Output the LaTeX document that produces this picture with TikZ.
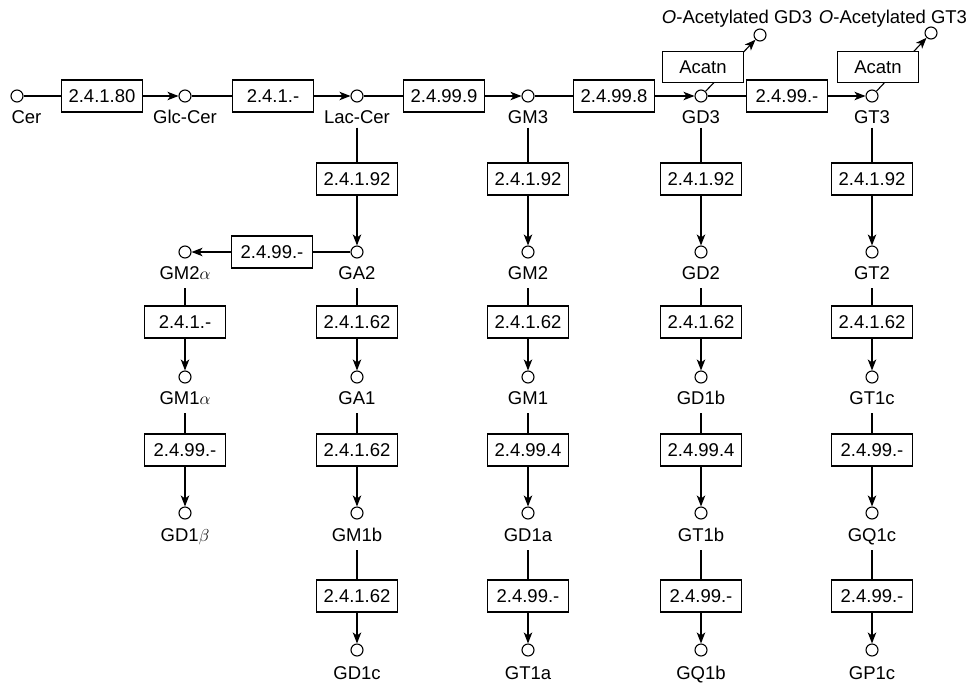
\documentclass[tikz,border=0pt]{standalone}
\usepackage{fontspec}
\setmainfont{Liberation Sans}
\usetikzlibrary{arrows.meta}
\newcommand\fs{\fontsize{18.5}{22}\selectfont}
\begin{document}
\begin{tikzpicture}[x=1pt,y=-1pt,line width=1.1pt,
  met/.style={circle,draw,fill=white,minimum size=12pt,inner sep=0pt},
  enz/.style={draw,fill=white,minimum width=81pt,minimum height=32pt,inner sep=0pt,font=\fs},
  lbl/.style={font=\fs,inner sep=0pt,text depth=8pt,anchor=base},
  arr/.style={-{Stealth[length=11pt,width=8.5pt,inset=3pt]}}]
\useasboundingbox (0,0) rectangle (971,683);
% main row
\node[met] (cCer) at (17,96) {};
\node[lbl,anchor=base west] (lCer) at (11,123.5) {Cer};
\foreach \n/\x/\t in {Glc/185/Glc-Cer, Lac/357/Lac-Cer, GM3/528/GM3, GD3/701/GD3, GT3/872/GT3}{
  \node[met] (c\n) at (\x,96) {};
  \node[lbl] (l\n) at (\x,123.5) {\t};
}
\foreach \n/\x/\t in {a/102/2.4.1.80, b/273/2.4.1.-, c/444/2.4.99.9, d/614/2.4.99.8, e/787/2.4.99.-}
  \node[enz] (h\n) at (\x,96) {\t};
\draw (cCer) -- (ha); \draw[arr] (ha) -- (cGlc);
\draw (cGlc) -- (hb); \draw[arr] (hb) -- (cLac);
\draw (cLac) -- (hc); \draw[arr] (hc) -- (cGM3);
\draw (cGM3) -- (hd); \draw[arr] (hd) -- (cGD3);
\draw (cGD3) -- (he); \draw[arr] (he) -- (cGT3);
% vertical columns
\foreach \col/\x/\ea/\eb/\ec/\ed/\pa/\pb/\pc/\pd in {
  Lac/357/2.4.1.92/2.4.1.62/2.4.1.62/2.4.1.62/GA2/GA1/GM1b/GD1c,
  GM3/528/2.4.1.92/2.4.1.62/2.4.99.4/2.4.99.-/GM2/GM1/GD1a/GT1a,
  GD3/701/2.4.1.92/2.4.1.62/2.4.99.4/2.4.99.-/GD2/GD1b/GT1b/GQ1b,
  GT3/872/2.4.1.92/2.4.1.62/2.4.99.-/2.4.99.-/GT2/GT1c/GQ1c/GP1c}{
  \node[enz] (\col e1) at (\x,179) {\ea};
  \node[met] (\col c1) at (\x,252) {};
  \node[lbl] (\col l1) at (\x,279.5) {\pa};
  \node[enz] (\col e2) at (\x,322) {\eb};
  \node[met] (\col c2) at (\x,377) {};
  \node[lbl] (\col l2) at (\x,404.5) {\pb};
  \node[enz] (\col e3) at (\x,450) {\ec};
  \node[met] (\col c3) at (\x,513) {};
  \node[lbl] (\col l3) at (\x,541.5) {\pc};
  \node[enz] (\col e4) at (\x,596) {\ed};
  \node[met] (\col c4) at (\x,650) {};
  \node[lbl] (\col l4) at (\x,679.5) {\pd};
  \draw[shorten <=-4.5pt] (l\col.south) -- (\col e1.north);
  \draw[arr] (\col e1) -- (\col c1);
  \draw (\col l1.south) -- (\col e2.north);
  \draw[arr] (\col e2) -- (\col c2);
  \draw (\col l2.south) -- (\col e3.north);
  \draw[arr] (\col e3) -- (\col c3);
  \draw (\col l3.south) -- (\col e4.north);
  \draw[arr] (\col e4) -- (\col c4);
}
% GM2alpha branch
\node[enz] (hf) at (272,252) {2.4.99.-};
\node[met] (cGMa) at (185,252) {};
\node[lbl] (lGMa) at (185,279.5) {GM2$\alpha$};
\node[enz] (fe2) at (185,322) {2.4.1.-};
\node[met] (fc2) at (185,377) {};
\node[lbl] (fl2) at (185,404.5) {GM1$\alpha$};
\node[enz] (fe3) at (185,450) {2.4.99.-};
\node[met] (fc3) at (185,513) {};
\node[lbl] (fl3) at (185,541.5) {GD1$\beta$};
\draw (Lacc1) -- (hf); \draw[arr] (hf) -- (cGMa);
\draw (lGMa.south) -- (fe2.north); \draw[arr] (fe2) -- (fc2);
\draw (fl2.south) -- (fe3.north); \draw[arr] (fe3) -- (fc3);
% O-acetylation
\node[met] (oGD3) at (760,35) {};
\node[met] (oGT3) at (931,33) {};
\draw[arr] (cGD3) -- (oGD3);
\draw[arr] (cGT3) -- (oGT3);
\node[enz,minimum height=31pt] (aGD3) at (703,67) {Acatn};
\node[enz,minimum height=31pt] (aGT3) at (878,67) {Acatn};
\node[lbl] (tGD3) at (737,23.5) {\textit{O}-Acetylated GD3};
\node[lbl] (tGT3) at (893,23.5) {\textit{O}-Acetylated GT3};
\end{tikzpicture}
\end{document}
